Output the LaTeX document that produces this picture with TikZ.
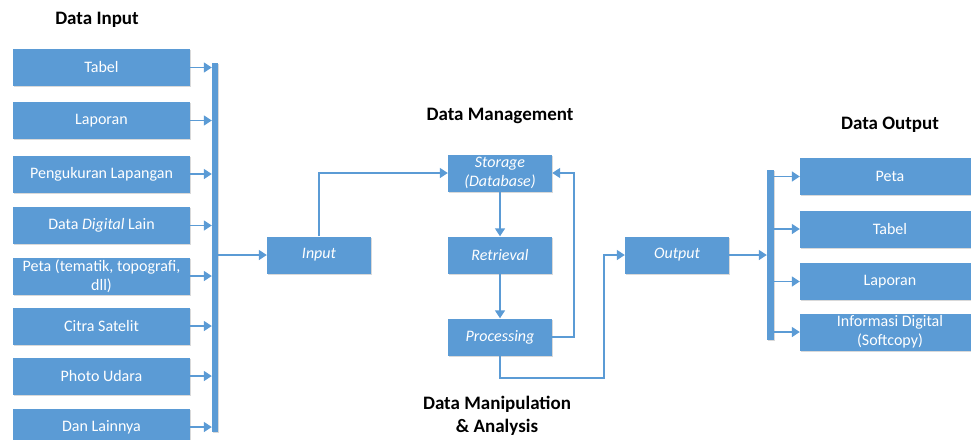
\documentclass[tikz,border=0pt]{standalone}
\usepackage{fontspec}
\setmainfont{Carlito}
\usetikzlibrary{arrows.meta,shadows}
\definecolor{boxblue}{HTML}{5B9BD5}
\begin{document}
\begin{tikzpicture}[x=1pt,y=-1pt,
  blk/.style={fill=boxblue, text=white, inner sep=0pt, align=center,
    minimum height=37pt, font=\fontsize{16}{19}\selectfont,
    drop shadow={shadow xshift=1pt, shadow yshift=-1.2pt, opacity=0.3, fill=gray}},
  lbox/.style={blk, minimum width=177pt},
  rbox/.style={blk, minimum width=180pt},
  mbox/.style={blk, minimum width=104pt, font=\fontsize{16}{19}\selectfont\itshape},
  bar/.style={fill=boxblue, inner sep=0pt,
    drop shadow={shadow xshift=1pt, shadow yshift=-1.2pt, opacity=0.3, fill=gray}},
  conn/.style={draw=boxblue, line width=1.5pt, -{Triangle[length=8pt,width=10pt]}},
  heading/.style={font=\fontsize{19}{23}\selectfont\bfseries, align=center}]
\useasboundingbox (0,0) rectangle (971,439);
\clip (0,0) rectangle (971,439);

% headings
\node[heading] (hin)  at (97,20)   {Data Input};
\node[heading] (hman) at (500,116) {Data Management};
\node[heading] (hout) at (890,125) {Data Output};
\node[heading] (hana) at (497,416) {Data Manipulation\\\& Analysis};

% input sources
\node[lbox] (b1) at (101.5,67.5)  {Tabel};
\node[lbox] (b2) at (101.5,120.5) {Laporan};
\node[lbox] (b3) at (101.5,174)   {Pengukuran Lapangan};
\node[lbox] (b4) at (101.5,225.5) {Data \textit{Digital} Lain};
\node[lbox] (b5) at (101.5,276)   {Peta (tematik, topografi,\\dll)};
\node[lbox] (b6) at (101.5,326)   {Citra Satelit};
\node[lbox] (b7) at (101.5,376)   {Photo Udara};
\node[lbox] (b8) at (101.5,427)   {Dan Lainnya};

% collecting bar
\node[bar, minimum width=6pt, minimum height=369pt] (lbar) at (215,247.5) {};
\foreach \b in {b1,b2,b3,b4,b5,b6,b7,b8}
  \draw[conn] (\b.east) -- (\b.east -| lbar.west);

% processing chain
\node[mbox] (inp) at (319,255) {Input};
\node[mbox] (sto) at (500,173) {Storage\\(Database)};
\node[mbox] (ret) at (500,255) {Retrieval};
\node[mbox] (pro) at (500,337) {Processing};
\node[mbox] (out) at (677,255) {Output};
\coordinate (loop) at (604,378);

\draw[conn] (lbar.east |- inp.west) -- (inp.west);
\draw[conn] (inp.north) |- (sto.west);
\draw[conn] (sto.south) -- (ret.north);
\draw[conn] (ret.south) -- (pro.north);
\draw[conn] (pro.east) -- ++(22,0) |- (sto.east);
\draw[conn] (pro.south) |- (loop) |- (out.west);

% output bar and products
\node[bar, minimum width=7pt, minimum height=170pt] (rbar) at (770.5,255) {};
\draw[conn] (out.east) -- (out.east -| rbar.west);

\node[rbox] (r1) at (890,176.5) {Peta};
\node[rbox] (r2) at (890,229)   {Tabel};
\node[rbox] (r3) at (890,281.5) {Laporan};
\node[rbox] (r4) at (890,332)   {Informasi Digital\\(Softcopy)};
\foreach \r in {r1,r2,r3,r4}
  \draw[conn] (rbar.east |- \r.west) -- (\r.west);
\end{tikzpicture}
\end{document}
